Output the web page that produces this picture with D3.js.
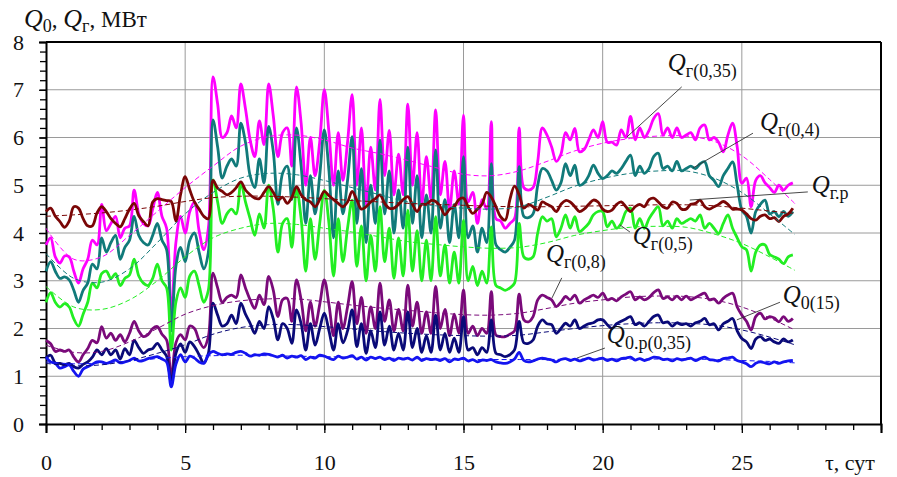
<!DOCTYPE html>
<html>
<head>
<meta charset="utf-8">
<script src="https://cdn.jsdelivr.net/npm/d3@7"></script>
<style>
  body { margin: 0; background: #fff; }
  svg text { font-family: "Liberation Serif", "DejaVu Serif", "Times New Roman", serif; fill: #111; }
</style>
</head>
<body>
<div id="chart"></div>
<script>
// samples every 1/6 day, t = 0 .. 26.83
const qg035 = [
  3.75, 3.9, 3.5, 3.37, 3.52, 3.5,   3.2, 2.95, 3.25, 3.45, 3.85, 3.75,
  4.6, 4.05, 4.2, 4.35, 3.9, 4.1,    4.15, 4.9, 4.4, 4.2, 4.15, 4.5,
  4.85, 4.35, 4.1, 2.2, 3.8, 4.35,   4.0, 4.45, 4.65, 4.05, 3.65, 4.1,
  7.27, 6.7, 6.0, 6.1, 6.45, 6.2,    7.12, 6.6, 5.95, 5.6, 6.35, 5.85,
  7.12, 6.45, 5.6, 6.1, 6.2, 5.4,    7.06, 6.3, 5.0, 6.0, 5.2, 5.9,
  7.0, 6.1, 5.0, 6.1, 5.1, 5.9,      6.9, 5.0, 6.2, 4.6, 5.8, 4.9,
  6.8, 5.2, 6.15, 4.8, 5.65, 4.8,    6.7, 5.0, 6.1, 4.6, 5.6, 4.7,
  6.58, 4.8, 5.5, 4.5, 5.3, 4.6,     6.47, 4.65, 4.85, 4.2, 4.7, 4.5,
  6.33, 4.3, 4.25, 4.1, 4.2, 4.3,    6.2, 4.95, 4.9, 4.95, 5.5, 6.2,
  6.05, 5.8, 5.5, 5.65, 6.1, 5.95,   6.19, 5.7, 5.75, 5.95, 6.16, 6.0,
  6.33, 5.9, 5.9, 5.84, 6.16, 6.0,   6.44, 5.95, 6.2, 6.0, 6.15, 6.4,
  6.5, 6.05, 6.2, 6.0, 6.2, 6.0,     6.05, 6.1, 5.95, 6.2, 6.26, 5.95,
  6.0, 5.9, 5.7, 6.05, 6.3, 5.8,     5.04, 5.15, 4.55, 5.1, 5.2, 5.05,
  4.95, 4.85, 5.0, 4.9, 5.0, 5.05
];
const qg04 = [
  3.2, 3.4, 3.2, 3.05, 3.08, 3.02,   2.8, 2.55, 2.8, 2.95, 3.35, 3.25,
  3.9, 3.6, 3.8, 3.95, 3.45, 3.7,    3.85, 4.35, 3.95, 3.8, 3.75, 3.95,
  4.2, 3.85, 3.65, 1.95, 3.3, 3.7,   3.4, 3.85, 4.0, 3.6, 3.25, 3.6,
  6.37, 5.8, 5.15, 5.4, 5.55, 5.4,   6.3, 5.9, 5.2, 4.95, 5.55, 5.05,
  6.23, 5.7, 4.6, 5.25, 5.4, 4.7,    6.2, 5.4, 4.2, 5.2, 4.4, 5.2,
  6.16, 5.3, 3.9, 5.3, 4.4, 5.1,     6.02, 4.2, 5.35, 3.8, 5.0, 4.2,
  5.95, 4.4, 5.3, 4.0, 4.9, 4.1,     5.8, 4.2, 5.2, 3.9, 4.8, 4.0,
  5.74, 4.1, 4.7, 3.8, 4.6, 3.9,     5.6, 3.9, 4.15, 3.6, 4.1, 3.8,
  5.45, 3.75, 3.65, 3.6, 3.7, 3.85,  5.39, 4.35, 4.32, 4.4, 5.0, 5.35,
  5.3, 5.1, 4.9, 5.05, 5.45, 5.2,    5.42, 5.0, 5.05, 5.2, 5.42, 5.25,
  5.14, 5.2, 5.3, 5.25, 5.35, 5.5,   5.63, 5.2, 5.4, 5.25, 5.35, 5.6,
  5.67, 5.35, 5.4, 5.3, 5.5, 5.3,    5.35, 5.4, 5.35, 5.45, 5.49, 5.2,
  5.1, 4.97, 5.2, 5.35, 5.49, 5.0,   4.48, 4.35, 4.0, 4.45, 4.6, 4.69,
  4.4, 4.45, 4.34, 4.45, 4.35, 4.45
];
const qg05 = [
  2.55, 2.75, 2.55, 2.45, 2.52, 2.45, 2.2, 2.05, 2.3, 2.55, 2.95, 2.85,
  3.15, 3.2, 3.05, 3.15, 2.9, 3.05,   3.12, 3.45, 3.1, 2.95, 2.9, 3.05,
  3.35, 3.0, 2.85, 1.55, 2.55, 2.85,  2.65, 3.1, 3.2, 2.9, 2.55, 2.8,
  5.11, 4.65, 4.2, 4.4, 4.5, 4.4,     5.05, 4.65, 4.3, 3.95, 4.4, 4.1,
  5.0, 4.5, 3.6, 4.2, 4.3, 3.7,       4.95, 4.3, 3.2, 4.3, 3.45, 4.2,
  4.9, 4.2, 3.1, 4.3, 3.4, 4.1,       4.69, 3.3, 4.15, 3.0, 3.95, 3.2,
  4.55, 3.4, 4.1, 3.05, 3.9, 3.1,     4.48, 3.2, 4.05, 3.0, 3.85, 3.0,
  4.34, 3.1, 3.75, 2.95, 3.6, 2.95,   4.27, 3.0, 3.3, 2.9, 3.2, 2.95,
  4.13, 2.9, 2.85, 2.8, 2.85, 2.95,   4.2, 3.5, 3.45, 3.5, 4.0, 4.34,
  4.25, 4.3, 3.92, 4.1, 4.38, 4.1,    4.34, 4.03, 4.1, 4.2, 4.38, 4.45,
  4.45, 4.13, 4.25, 4.1, 4.2, 4.45,   4.52, 4.1, 4.3, 4.1, 4.3, 4.45,
  4.55, 4.15, 4.25, 4.1, 4.3, 4.2,    4.25, 4.3, 4.25, 4.38, 4.1, 4.2,
  4.1, 3.99, 4.2, 4.38, 4.1, 3.9,     3.71, 3.65, 3.2, 3.6, 3.75, 3.75,
  3.55, 3.5, 3.45, 3.36, 3.5, 3.54
];
const qgr = [
  4.45, 4.52, 4.35, 4.24, 4.12, 4.25, 4.55, 4.52, 4.3, 4.15, 4.15, 4.42,
  4.55, 4.45, 4.3, 4.2, 4.13, 4.3,    4.5, 4.62, 4.36, 4.24, 4.15, 4.65,
  4.72, 4.7, 4.68, 4.66, 4.25, 4.8,   5.18, 4.9, 4.65, 4.5, 4.35, 4.3,
  5.1, 4.94, 4.87, 4.8, 4.85, 4.95,   5.07, 4.9, 4.8, 4.73, 4.72, 4.85,
  4.97, 4.85, 4.69, 4.75, 4.62, 4.75, 4.97, 4.8, 4.7, 4.65, 4.55, 4.7,
  4.87, 4.78, 4.7, 4.62, 4.55, 4.65,  4.87, 4.69, 4.5, 4.55, 4.65, 4.72,
  4.8, 4.62, 4.52, 4.52, 4.6, 4.7,    4.76, 4.6, 4.45, 4.6, 4.6, 4.68,
  4.66, 4.55, 4.38, 4.5, 4.55, 4.7,   4.73, 4.55, 4.41, 4.5, 4.6, 4.85,
  4.75, 4.55, 4.34, 4.27, 4.7, 4.98,  4.8, 4.52, 4.6, 4.55, 4.48, 4.65,
  4.6, 4.55, 4.45, 4.6, 4.68, 4.65,   4.55, 4.45, 4.5, 4.6, 4.69, 4.65,
  4.5, 4.45, 4.48, 4.6, 4.65, 4.55,   4.45, 4.55, 4.6, 4.55, 4.7, 4.73,
  4.65, 4.55, 4.52, 4.65, 4.62, 4.5,  4.5, 4.6, 4.62, 4.69, 4.55, 4.5,
  4.55, 4.6, 4.66, 4.6, 4.5, 4.5,     4.48, 4.4, 4.3, 4.27, 4.35, 4.38,
  4.3, 4.32, 4.24, 4.35, 4.4, 4.52
];
const qg08 = [
  1.75, 1.68, 1.52, 1.55, 1.52, 1.55, 1.4, 1.3, 1.45, 1.58, 1.75, 1.7,
  2.04, 1.8, 1.9, 1.75, 1.87, 1.72,   1.9, 2.15, 1.95, 1.83, 1.87, 2.0,
  2.04, 1.88, 1.76, 0.97, 1.7, 1.87,  1.76, 2.05, 2.0, 1.75, 1.6, 1.83,
  3.16, 2.85, 2.55, 2.65, 2.7, 2.65,  3.12, 2.85, 2.6, 2.42, 2.7, 2.5,
  3.09, 2.8, 2.25, 2.6, 2.63, 2.15,   3.02, 2.6, 1.95, 2.55, 2.05, 2.5,
  3.02, 2.5, 1.85, 2.55, 2.0, 2.45,   2.98, 2.1, 2.65, 1.9, 2.45, 2.0,
  2.95, 2.15, 2.6, 1.95, 2.4, 1.95,   2.91, 2.05, 2.55, 1.9, 2.35, 1.9,
  2.88, 2.0, 2.4, 1.85, 2.3, 1.9,     2.81, 1.9, 2.05, 1.85, 2.0, 1.9,
  2.77, 1.86, 1.83, 1.83, 1.88, 1.95, 2.72, 2.18, 2.14, 2.25, 2.6, 2.7,
  2.65, 2.6, 2.46, 2.55, 2.67, 2.6,   2.7, 2.53, 2.6, 2.65, 2.7, 2.65,
  2.74, 2.6, 2.63, 2.58, 2.66, 2.72,  2.77, 2.6, 2.66, 2.6, 2.65, 2.75,
  2.81, 2.63, 2.66, 2.6, 2.68, 2.6,   2.68, 2.6, 2.65, 2.7, 2.74, 2.6,
  2.62, 2.53, 2.63, 2.7, 2.74, 2.45,  2.28, 2.15, 1.97, 2.25, 2.32, 2.2,
  2.25, 2.22, 2.14, 2.25, 2.15, 2.21
];
const q015 = [
  1.38, 1.44, 1.28, 1.27, 1.24, 1.27, 1.2, 1.17, 1.25, 1.3, 1.4, 1.55,
  1.45, 1.58, 1.45, 1.55, 1.36, 1.58, 1.45, 1.75, 1.6, 1.48, 1.55, 1.58,
  1.69, 1.55, 1.42, 0.88, 1.48, 1.68, 1.5, 1.72, 1.62, 1.45, 1.28, 1.48,
  2.53, 2.28, 2.05, 2.1, 2.28, 2.1,   2.53, 2.3, 2.11, 1.9, 2.15, 2.0,
  2.46, 2.2, 1.76, 2.1, 2.0, 1.69,    2.39, 2.1, 1.55, 2.1, 1.65, 2.0,
  2.32, 1.95, 1.55, 2.1, 1.7, 1.95,   2.39, 1.62, 2.1, 1.48, 1.95, 1.6,
  2.35, 1.65, 2.05, 1.55, 1.9, 1.55,  2.35, 1.6, 2.0, 1.5, 1.85, 1.5,
  2.28, 1.55, 1.9, 1.5, 1.8, 1.5,     2.25, 1.55, 1.6, 1.45, 1.6, 1.5,
  2.18, 1.48, 1.45, 1.41, 1.45, 1.55, 2.15, 1.7, 1.69, 1.76, 2.05, 2.18,
  2.1, 2.08, 1.9, 2.0, 2.11, 2.05,    2.18, 2.0, 2.05, 2.1, 2.12, 2.18,
  2.18, 2.08, 2.0, 2.1, 2.15, 2.2,    2.25, 2.08, 2.12, 2.05, 2.15, 2.25,
  2.28, 2.12, 2.14, 2.05, 2.12, 2.08, 2.1, 2.05, 2.12, 2.15, 2.21, 2.08,
  2.1, 1.97, 2.1, 2.15, 2.21, 1.95,   1.79, 1.72, 1.58, 1.78, 1.83, 1.75,
  1.78, 1.72, 1.69, 1.78, 1.72, 1.76
];
const q0r035 = [
  1.4, 1.3, 1.27, 1.17, 1.2, 1.24,    1.1, 1.0, 1.15, 1.2, 1.25, 1.3,
  1.3, 1.27, 1.3, 1.34, 1.28, 1.3,    1.33, 1.38, 1.32, 1.33, 1.37, 1.39,
  1.41, 1.36, 1.3, 0.78, 1.25, 1.45,  1.3, 1.42, 1.38, 1.3, 1.27, 1.45,
  1.52, 1.48, 1.45, 1.47, 1.46, 1.5,  1.52, 1.48, 1.42, 1.45, 1.44, 1.47,
  1.46, 1.43, 1.4, 1.44, 1.38, 1.42,  1.4, 1.43, 1.35, 1.4, 1.38, 1.44,
  1.42, 1.38, 1.35, 1.42, 1.38, 1.4,  1.43, 1.36, 1.4, 1.34, 1.4, 1.37,
  1.4, 1.35, 1.38, 1.33, 1.38, 1.36,  1.38, 1.34, 1.4, 1.33, 1.37, 1.35,
  1.36, 1.33, 1.37, 1.3, 1.36, 1.35,  1.38, 1.32, 1.35, 1.3, 1.34, 1.33,
  1.35, 1.3, 1.28, 1.27, 1.3, 1.36,   1.5, 1.33, 1.3, 1.32, 1.36, 1.38,
  1.36, 1.34, 1.3, 1.35, 1.37, 1.33,  1.36, 1.32, 1.35, 1.38, 1.34, 1.36,
  1.38, 1.33, 1.36, 1.32, 1.37, 1.38, 1.4, 1.34, 1.37, 1.33, 1.36, 1.4,
  1.39, 1.35, 1.36, 1.32, 1.37, 1.34, 1.36, 1.38, 1.33, 1.37, 1.4, 1.35,
  1.34, 1.32, 1.37, 1.38, 1.4, 1.33,  1.3, 1.26, 1.2, 1.27, 1.3, 1.28,
  1.26, 1.3, 1.27, 1.3, 1.32, 1.33
];

// smooth trends (dashed), one value per day
const trendDays = [0,1,2,3,4,5,6,7,8,9,10,11,12,13,14,15,16,17,18,19,20,21,22,23,24,25,26,26.9];
const trendQg035 = [4.1,3.45,3.5,3.95,4.45,4.95,5.4,5.82,6.02,6.05,5.95,5.78,5.66,5.52,5.37,5.23,5.2,5.3,5.5,5.72,5.88,5.98,6.03,6.03,5.92,5.62,5.12,4.62];
const trendQg04  = [3.57,3.05,2.97,3.25,3.8,4.4,4.85,5.15,5.25,5.22,5.1,4.95,4.8,4.65,4.57,4.52,4.5,4.55,4.75,4.98,5.14,5.25,5.3,5.3,5.15,4.85,4.4,3.97];
const trendQg05  = [2.88,2.45,2.4,2.6,3.0,3.5,3.9,4.1,4.2,4.18,4.1,4.02,3.92,3.82,3.76,3.71,3.68,3.7,3.8,3.95,4.05,4.12,4.14,4.12,3.98,3.78,3.5,3.22];
const trendQgr   = [4.35,4.38,4.42,4.48,4.56,4.66,4.74,4.77,4.77,4.75,4.72,4.68,4.65,4.62,4.6,4.58,4.56,4.55,4.55,4.56,4.57,4.58,4.59,4.59,4.57,4.52,4.46,4.41];
const trendQg08  = [1.65,1.5,1.52,1.72,2.0,2.3,2.48,2.58,2.62,2.62,2.56,2.49,2.43,2.38,2.33,2.29,2.28,2.32,2.42,2.53,2.6,2.66,2.68,2.67,2.6,2.45,2.22,1.97];
const trendQ015  = [1.27,1.22,1.24,1.33,1.48,1.66,1.88,2.02,2.08,2.08,2.04,1.99,1.94,1.9,1.87,1.85,1.84,1.86,1.93,2.0,2.06,2.1,2.12,2.11,2.07,1.97,1.82,1.66];
const trendQ0r   = [1.3,1.26,1.28,1.32,1.37,1.41,1.43,1.44,1.43,1.42,1.41,1.4,1.38,1.37,1.36,1.35,1.35,1.35,1.35,1.36,1.36,1.36,1.36,1.36,1.35,1.33,1.31,1.28];

const xMajor = [0, 5, 10, 15, 20, 25];
const yMajor = [0, 1, 2, 3, 4, 5, 6, 7, 8];

const series = [
  { name: "Qг(0,35)", values: qg035, trend: trendQg035, color: "#ff00ff" },
  { name: "Qг(0,4)",  values: qg04,  trend: trendQg04,  color: "#117a7a" },
  { name: "Qг(0,5)",  values: qg05,  trend: trendQg05,  color: "#22ee22" },
  { name: "Qг(0,8)",  values: qg08,  trend: trendQg08,  color: "#7a0a7a" },
  { name: "Q0(15)",   values: q015,  trend: trendQ015,  color: "#0a0a78" },
  { name: "Q0.р(0,35)", values: q0r035, trend: trendQ0r, color: "#1414f0" },
  { name: "Qг.р",     values: qgr,   trend: trendQgr,   color: "#7a0606" }
];

// label: Q + subscript, anchor [t, Q], leader from -> to (data units)
const labels = [
  { sub: "г(0,35)",  at: [22.34, 7.39], from: [22.84, 7.06], to: [20.87, 6.01] },
  { sub: "г(0,4)",   at: [25.65, 6.16], from: [25.40, 6.09], to: [23.24, 5.36] },
  { sub: "г.р",      at: [27.51, 4.84], from: [27.37, 4.86], to: [23.13, 4.69] },
  { sub: "г(0,5)",   at: [21.08, 3.77], from: [20.98, 4.02], to: [20.62, 4.17] },
  { sub: "г(0,8)",   at: [17.96, 3.39], from: [18.53, 3.06], to: [18.18, 2.64] },
  { sub: "0(15)",    at: [26.47, 2.53], from: [26.37, 2.55], to: [24.82, 2.18] },
  { sub: "0.р(0,35)", at: [20.15, 1.70], from: [20.08, 1.59], to: [19.07, 1.38] }
];

const serif = "'Liberation Serif', 'DejaVu Serif', 'Times New Roman', serif";
const width = 897, height = 477;
const svg = d3.select("#chart").append("svg")
  .attr("width", width).attr("height", height)
  .attr("font-family", serif);

const x = d3.scaleLinear().domain([0, 30]).range([46, 881]);
const y = d3.scaleLinear().domain([0, 8]).range([424, 42]);

// grid
svg.append("g").selectAll("line")
  .data(yMajor.filter(d => d > 0 && d < 8))
  .join("line")
  .attr("x1", x(0)).attr("x2", x(30))
  .attr("y1", d => y(d)).attr("y2", d => y(d))
  .attr("stroke", "#9a9a9a").attr("stroke-width", 1);
svg.append("g").selectAll("line")
  .data(xMajor.filter(d => d > 0))
  .join("line")
  .attr("x1", d => x(d)).attr("x2", d => x(d))
  .attr("y1", y(0)).attr("y2", y(8))
  .attr("stroke", "#9a9a9a").attr("stroke-width", 1);

// frame top / right
svg.append("line").attr("x1", x(0)).attr("x2", x(30)).attr("y1", y(8)).attr("y2", y(8))
  .attr("stroke", "#000").attr("stroke-width", 2);
svg.append("line").attr("x1", x(30)).attr("x2", x(30)).attr("y1", y(8)).attr("y2", y(0))
  .attr("stroke", "#000").attr("stroke-width", 2);

// axes
const yMinor = svg.append("g").attr("transform", `translate(${x(0)},0)`)
  .call(d3.axisLeft(y).tickValues(d3.range(0, 8.001, 0.2)).tickSize(6).tickFormat(""));
yMinor.select(".domain").remove();

const yAxis = svg.append("g").attr("transform", `translate(${x(0)},0)`)
  .call(d3.axisLeft(y).tickValues(yMajor).tickSize(7).tickPadding(15).tickFormat(d3.format("d")));

const xMinor = svg.append("g").attr("transform", `translate(0,${y(0)})`)
  .call(d3.axisBottom(x).tickValues(d3.range(0, 31, 1)).tickSize(6).tickFormat(""));
xMinor.select(".domain").remove();

const xAxis = svg.append("g").attr("transform", `translate(0,${y(0)})`)
  .call(d3.axisBottom(x).tickValues(xMajor.concat([30])).tickSize(9).tickPadding(21)
    .tickFormat(d => d === 30 ? "" : d));

[yMinor, yAxis, xMinor, xAxis].forEach(g => {
  g.attr("font-family", serif);
  g.selectAll("line").attr("stroke", "#000").attr("stroke-width", 1.3);
  g.select(".domain").attr("stroke", "#000").attr("stroke-width", 2);
  g.selectAll("text").attr("font-size", 22).attr("fill", "#111")
    .style("font-family", serif);
});

// data
const line = d3.line()
  .x((d, i) => x(i / 6))
  .y(d => y(d))
  .curve(d3.curveCatmullRom.alpha(0.5));

const trendLine = d3.line()
  .x((d, i) => x(trendDays[i]))
  .y(d => y(d))
  .curve(d3.curveCatmullRom.alpha(0.5));

svg.append("g").selectAll("path")
  .data(series)
  .join("path")
  .attr("d", d => line(d.values))
  .attr("fill", "none")
  .attr("stroke", d => d.color)
  .attr("stroke-width", 2.8)
  .attr("stroke-linejoin", "round");

svg.append("g").selectAll("path")
  .data(series)
  .join("path")
  .attr("d", d => trendLine(d.trend))
  .attr("fill", "none")
  .attr("stroke", d => d.color)
  .attr("stroke-width", 1)
  .attr("stroke-dasharray", "5,3");

// labels
const lab = svg.append("g");
labels.forEach(l => {
  lab.append("line")
    .attr("x1", x(l.from[0])).attr("y1", y(l.from[1]))
    .attr("x2", x(l.to[0])).attr("y2", y(l.to[1]))
    .attr("stroke", "#333").attr("stroke-width", 0.9);
  const t = lab.append("text").attr("x", x(l.at[0])).attr("y", y(l.at[1]))
    .style("font-family", serif);
  t.append("tspan").attr("font-style", "italic").attr("font-size", 25).text("Q");
  t.append("tspan").attr("font-size", 18).attr("dy", 6).text(l.sub);
});

// axis titles
const title = svg.append("text").attr("x", 24).attr("y", 27).style("font-family", serif);
title.append("tspan").attr("font-style", "italic").attr("font-size", 26).text("Q");
title.append("tspan").attr("font-size", 18).attr("dy", 5).text("0");
title.append("tspan").attr("font-size", 23).attr("dy", -5).text(", ");
title.append("tspan").attr("font-style", "italic").attr("font-size", 26).text("Q");
title.append("tspan").attr("font-size", 18).attr("dy", 5).text("г");
title.append("tspan").attr("font-size", 23).attr("dy", -5).text(", МВт");

svg.append("text").attr("x", 825).attr("y", 470).attr("font-size", 22)
  .style("font-family", serif).text("τ, сут");
</script>
</body>
</html>
